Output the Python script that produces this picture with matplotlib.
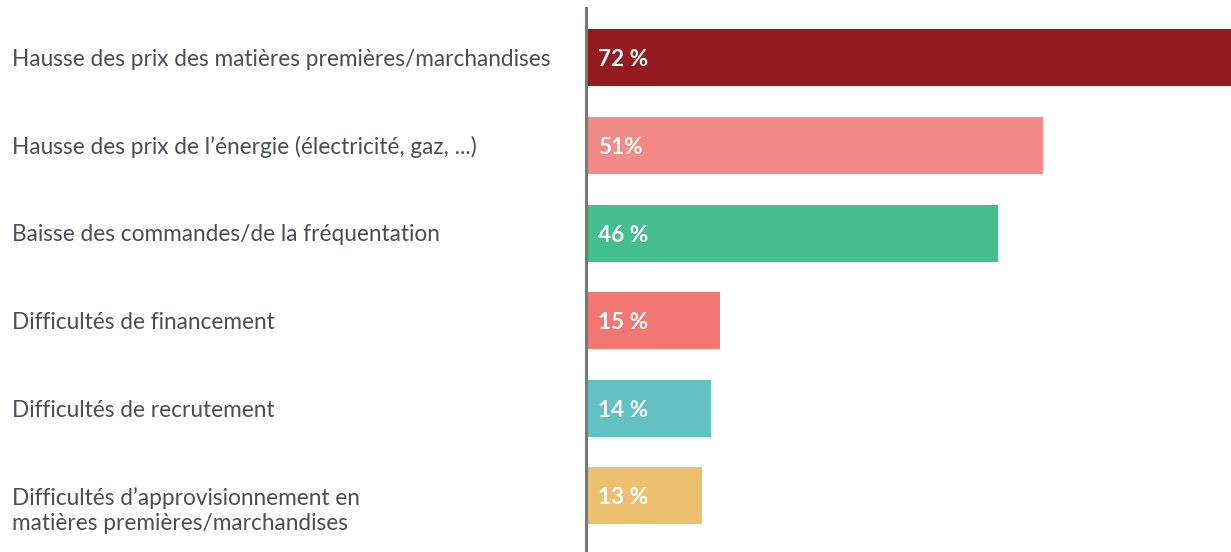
import matplotlib
matplotlib.use("Agg")
import matplotlib.pyplot as plt
import matplotlib.transforms as mtransforms

plt.rcParams['font.family'] = ['Lato', 'DejaVu Sans']

categories = [
    "Hausse des prix des matières premières/marchandises",
    "Hausse des prix de l’énergie (électricité, gaz, ...)",
    "Baisse des commandes/de la fréquentation",
    "Difficultés de financement",
    "Difficultés de recrutement",
    "Difficultés d’approvisionnement en\nmatières premières/marchandises",
]
values = [72, 51, 46, 15, 14, 13]
value_labels = ["72 %", "51%", "46 %", "15 %", "14 %", "13 %"]
colors = ["#961B1F", "#F28A87", "#45BF8F", "#F27773", "#62C1C2", "#EDC06F"]

fig = plt.figure(figsize=(12.31, 5.52), dpi=100)
ax = fig.add_axes([586 / 1231, 0, 1 - 586 / 1231, 1 - 8 / 552])

pos = list(range(len(values)))
ax.barh(pos, values, height=0.65, color=colors)
ax.set_xlim(0, 72)
ax.set_ylim(5.64, -0.57)

for p, v in zip(pos, value_labels):
    ax.annotate(v, xy=(0, p), xytext=(9, 0), textcoords="offset points",
                va="center_baseline", ha="left", color="white", fontsize=16.3,
                fontweight="bold")

trans = mtransforms.blended_transform_factory(fig.transFigure, ax.transData)
for p, c in zip(pos, categories):
    ax.text(12 / 1231, p + (0.17 if "\n" in c else 0.02), c, transform=trans,
            ha="left", va="center", fontsize=16.3, color="#4A4F55",
            linespacing=1.25, clip_on=False)

for s in ["top", "right", "bottom"]:
    ax.spines[s].set_visible(False)
ax.spines["left"].set_color("#77787B")
ax.spines["left"].set_linewidth(2.2)
ax.set_xticks([])
ax.set_yticks([])

fig.savefig("out.png", dpi=100)
